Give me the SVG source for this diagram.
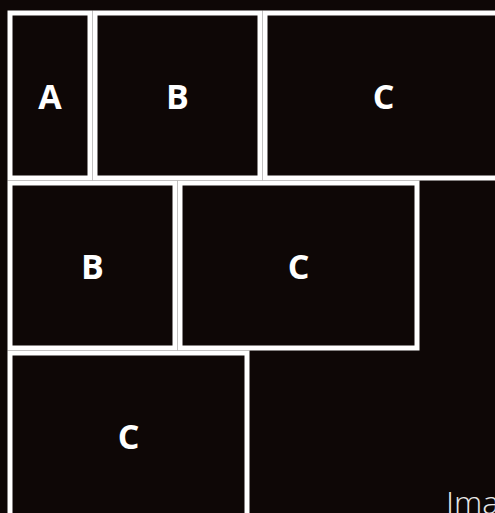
<svg xmlns="http://www.w3.org/2000/svg" width="495" height="513" viewBox="0 0 495 513">
<style>
.box{fill:#0e0706;stroke:#ffffff;stroke-width:5}
.lbl{font-family:"Open Sans","Liberation Sans",sans-serif;font-weight:700;font-size:34px;fill:#ffffff;text-anchor:middle}
.cap{font-family:"Open Sans","Liberation Sans",sans-serif;font-weight:300;font-size:32px;fill:#e8e8e8}
</style>
<rect x="0" y="0" width="495" height="513" fill="#0e0706"/>
<g id="row1-A"><rect class="box" x="10" y="13" width="80" height="165"/><text class="lbl" x="50" y="108.5">A</text></g>
<g id="row1-B"><rect class="box" x="95" y="13" width="165" height="165"/><text class="lbl" x="177.5" y="108.5">B</text></g>
<g id="row1-C"><rect class="box" x="265" y="13" width="237" height="165"/><text class="lbl" x="383.5" y="108.5">C</text></g>
<g id="row2-B"><rect class="box" x="10" y="183" width="165" height="165"/><text class="lbl" x="92.5" y="278.5">B</text></g>
<g id="row2-C"><rect class="box" x="180" y="183" width="237" height="165"/><text class="lbl" x="298.5" y="278.5">C</text></g>
<g id="row3-C"><rect class="box" x="10" y="353" width="237" height="165"/><text class="lbl" x="128.5" y="448.5">C</text></g>
<g id="connectors"></g>
<text class="cap" x="446" y="514">Ima</text>
</svg>
